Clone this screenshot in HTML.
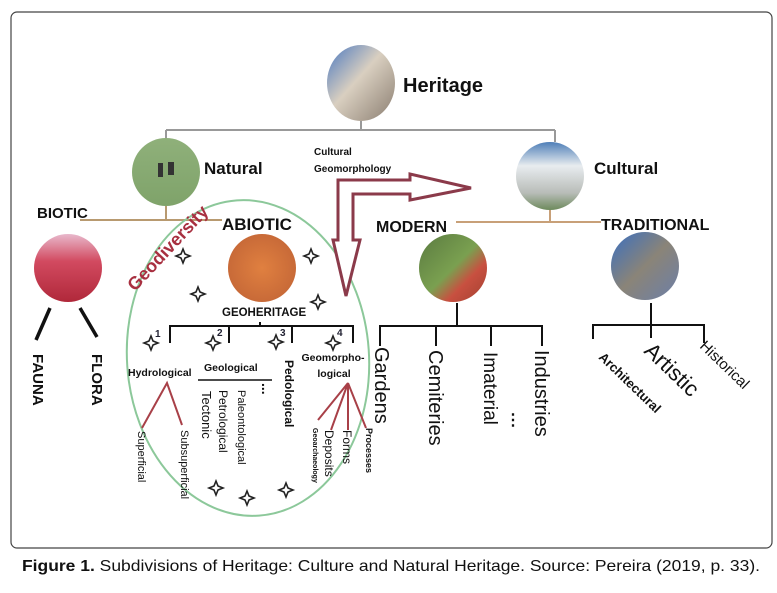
<!DOCTYPE html>
<html><head><meta charset="utf-8"><style>
html,body{margin:0;padding:0;background:#fff;}
svg{display:block;}
text{font-family:"Liberation Sans",sans-serif;}
</style></head><body>
<svg width="777" height="593" viewBox="0 0 777 593" xmlns="http://www.w3.org/2000/svg">
<defs>
<linearGradient id="gH" x1="0" y1="0" x2="1" y2="1"><stop offset="0" stop-color="#4a78c0"/><stop offset="0.45" stop-color="#d9cfc0"/><stop offset="1" stop-color="#8a7d70"/></linearGradient>
<linearGradient id="gN" x1="0" y1="0" x2="0" y2="1"><stop offset="0" stop-color="#8fb07a"/><stop offset="1" stop-color="#7fa36a"/></linearGradient>
<linearGradient id="gB" x1="0" y1="0" x2="0" y2="1"><stop offset="0" stop-color="#e8b8cc"/><stop offset="0.4" stop-color="#d24a60"/><stop offset="1" stop-color="#b0283a"/></linearGradient>
<radialGradient id="gA"><stop offset="0" stop-color="#e08040"/><stop offset="1" stop-color="#c86a38"/></radialGradient>
<linearGradient id="gC" x1="0" y1="0" x2="0" y2="1"><stop offset="0" stop-color="#4f7fb8"/><stop offset="0.35" stop-color="#e8ecef"/><stop offset="0.75" stop-color="#b8bcb8"/><stop offset="1" stop-color="#6d8a5c"/></linearGradient>
<linearGradient id="gM" x1="0" y1="0" x2="1" y2="1"><stop offset="0" stop-color="#5a7a40"/><stop offset="0.5" stop-color="#7aa050"/><stop offset="0.7" stop-color="#c85040"/><stop offset="1" stop-color="#a04030"/></linearGradient>
<linearGradient id="gT" x1="0" y1="0" x2="1" y2="1"><stop offset="0" stop-color="#3a6fc0"/><stop offset="0.5" stop-color="#8a8478"/><stop offset="1" stop-color="#6c7fa8"/></linearGradient>
<g id="st"><path d="M0,-7 L2,-2 L7,0 L2,2 L0,7 L-2,2 L-7,0 L-2,-2 Z" fill="#fff" stroke="#222" stroke-width="1.6"/></g>
</defs>
<rect x="11" y="12" width="761" height="536" rx="6" fill="#fff" stroke="#444" stroke-width="1.2"/>

<!-- Heritage -->
<ellipse cx="361" cy="83" rx="34" ry="38" fill="url(#gH)"/>
<text x="403" y="92" font-size="20" font-weight="bold" fill="#111">Heritage</text>
<path d="M361,121 V130 M166,130 H555 M166,130 V142 M555,130 V142" stroke="#999" stroke-width="2" fill="none"/>

<!-- Natural -->
<circle cx="166" cy="172" r="34" fill="url(#gN)"/>
<rect x="158" y="163" width="5" height="14" fill="#333"/><rect x="168" y="162" width="6" height="13" fill="#333"/>
<text x="204" y="174" font-size="17" font-weight="bold" fill="#111">Natural</text>
<path d="M80,220 H222 M166,206 V220" stroke="#b89a70" stroke-width="2" fill="none"/>
<text x="37" y="218" font-size="15" font-weight="bold" fill="#111">BIOTIC</text>
<text x="222" y="230" font-size="17" font-weight="bold" fill="#111">ABIOTIC</text>

<!-- Cultural -->
<circle cx="550" cy="176" r="34" fill="url(#gC)"/>
<text x="594" y="174" font-size="17" font-weight="bold" fill="#111">Cultural</text>
<path d="M456,222 H601 M550,210 V222" stroke="#c8a078" stroke-width="2" fill="none"/>
<text x="376" y="232" font-size="16" font-weight="bold" fill="#111">MODERN</text>
<text x="601" y="230" font-size="16" font-weight="bold" fill="#111">TRADITIONAL</text>

<text x="314" y="155" font-size="10" font-weight="bold" fill="#111">Cultural</text>
<text x="314" y="172" font-size="10" font-weight="bold" fill="#111">Geomorphology</text>

<!-- Biotic -->
<circle cx="68" cy="268" r="34" fill="url(#gB)"/>
<path d="M50,308 L36,340 M80,308 L97,337" stroke="#111" stroke-width="3.5"/>
<text transform="translate(33,354) rotate(90)" font-size="15" font-weight="bold" fill="#111">FAUNA</text>
<text transform="translate(92,354) rotate(90)" font-size="15" font-weight="bold" fill="#111">FLORA</text>

<!-- Ellipse -->
<ellipse cx="248" cy="358" rx="121" ry="158" fill="none" stroke="#8cc89a" stroke-width="2" transform="rotate(-4 248 358)"/>
<text transform="translate(135,292) rotate(-47)" font-size="18" font-weight="bold" fill="#a83040">Geodiversity</text>

<!-- Abiotic -->
<circle cx="262" cy="268" r="34" fill="url(#gA)"/>
<text x="222" y="316" font-size="11.5" font-weight="bold" fill="#111">GEOHERITAGE</text>

<use href="#st" x="183" y="256"/><use href="#st" x="198" y="294"/><use href="#st" x="311" y="256"/><use href="#st" x="318" y="302"/>
<use href="#st" x="151" y="343"/><use href="#st" x="213" y="343"/><use href="#st" x="276" y="342"/><use href="#st" x="333" y="343"/>
<use href="#st" x="216" y="488"/><use href="#st" x="247" y="498"/><use href="#st" x="286" y="490"/>
<text x="155" y="337" font-size="10" fill="#223" font-weight="bold">1</text>
<text x="217" y="336" font-size="10" fill="#223" font-weight="bold">2</text>
<text x="280" y="336" font-size="10" fill="#223" font-weight="bold">3</text>
<text x="337" y="336" font-size="10" fill="#223" font-weight="bold">4</text>

<path d="M170,343 V326 H353 V343 M229,326 V343 M292,326 V343 M260,322 V326" stroke="#111" stroke-width="2" fill="none"/>
<text x="128" y="376" font-size="10.5" font-weight="bold" fill="#111">Hydrological</text>
<text x="204" y="371" font-size="10.5" font-weight="bold" fill="#111">Geological</text>
<path d="M198,380 H272" stroke="#111" stroke-width="1.5"/>
<text transform="translate(262,383) rotate(90)" font-size="14" font-weight="bold" fill="#111">...</text>
<path d="M142,428 L167,383 L182,425" stroke="#a84048" stroke-width="2" fill="none"/>
<text transform="translate(138,431) rotate(90)" font-size="11" fill="#111">Superficial</text>
<text transform="translate(181,430) rotate(90)" font-size="11" fill="#111">Subsuperficial</text>
<text transform="translate(202,391) rotate(90)" font-size="13" fill="#111">Tectonic</text>
<text transform="translate(219,390) rotate(90)" font-size="12" fill="#111">Petrological</text>
<text transform="translate(238,390) rotate(90)" font-size="11" fill="#111">Paleontological</text>
<text transform="translate(285,360) rotate(90)" font-size="12" font-weight="bold" fill="#111">Pedological</text>
<text x="333" y="361" font-size="10.5" font-weight="bold" fill="#111" text-anchor="middle">Geomorpho-</text>
<text x="334" y="377" font-size="10.5" font-weight="bold" fill="#111" text-anchor="middle">logical</text>
<path d="M318,420 L348,383 M331,430 L348,383 L348,430 M348,383 L366,428" stroke="#a84048" stroke-width="2" fill="none"/>
<text transform="translate(313,428) rotate(90)" font-size="7" font-weight="bold" fill="#111">Geoarchaeology</text>
<text transform="translate(325,430) rotate(90)" font-size="12" fill="#111">Deposits</text>
<text transform="translate(343,430) rotate(90)" font-size="12" fill="#111">Forms</text>
<text transform="translate(366,428) rotate(90)" font-size="9" font-weight="bold" fill="#111">Processes</text>

<!-- arrow -->
<path d="M338,180 L410,180 L410,174 L471,188 L410,200 L410,194 L353,194 L353,240 L360,240 L346,296 L333,240 L338,240 Z" fill="#fff" stroke="#8b3a4a" stroke-width="3" stroke-linejoin="miter"/>

<!-- Modern -->
<circle cx="453" cy="268" r="34" fill="url(#gM)"/>
<path d="M457,303 V326 M380,346 V326 H542 V346 M436,326 V346 M491,326 V346" stroke="#111" stroke-width="2" fill="none"/>
<text transform="translate(375,347) rotate(90)" font-size="20" fill="#111">Gardens</text>
<text transform="translate(429,350) rotate(90)" font-size="20" fill="#111">Cemiteries</text>
<text transform="translate(484,352) rotate(90)" font-size="19" fill="#111">Imaterial</text>
<text transform="translate(535,350) rotate(90)" font-size="20" fill="#111">Industries</text>
<text x="505" y="425" font-size="16" font-weight="bold" fill="#111">⋮</text>

<!-- Traditional -->
<circle cx="645" cy="266" r="34" fill="url(#gT)"/>
<path d="M651,303 V338 M593,339 V325 H704 V343" stroke="#111" stroke-width="2" fill="none"/>
<text transform="translate(598,358) rotate(44)" font-size="13" font-weight="bold" fill="#111">Architectural</text>
<text transform="translate(643,352) rotate(44)" font-size="22" fill="#111">Artistic</text>
<text transform="translate(699,347) rotate(44)" font-size="15" fill="#111">Historical</text>

<!-- caption -->
<text x="22" y="571" font-size="16" fill="#111" textLength="738" lengthAdjust="spacingAndGlyphs"><tspan font-weight="bold">Figure 1.</tspan> Subdivisions of Heritage: Culture and Natural Heritage. Source: Pereira (2019, p. 33).</text>
</svg>
</body></html>
